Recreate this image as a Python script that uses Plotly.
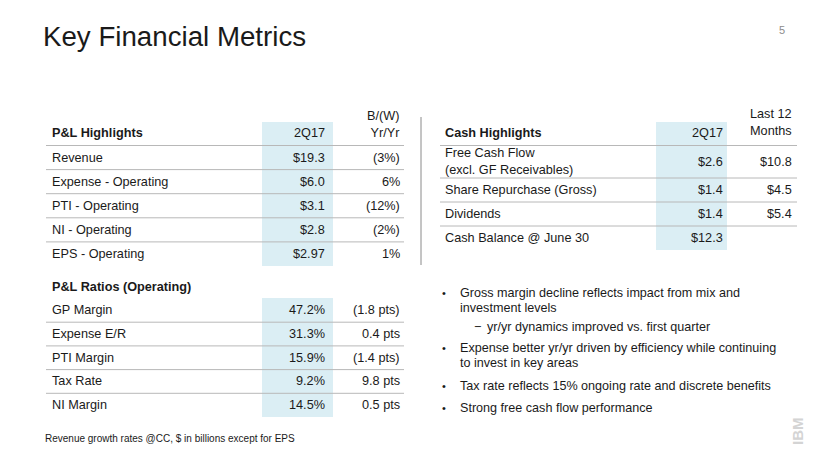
import plotly.graph_objects as go

# ---- data ----
title = "Key Financial Metrics"
page_no = "5"

pl_header = ["P&L Highlights", "2Q17", "B/(W)<br>Yr/Yr"]
pl_labels = ["Revenue", "Expense - Operating", "PTI - Operating", "NI - Operating", "EPS - Operating"]
pl_q = ["$19.3", "$6.0", "$3.1", "$2.8", "$2.97"]
pl_yy = ["(3%)", "6%", "(12%)", "(2%)", "1%"]

ratio_header = "P&L Ratios (Operating)"
ratio_labels = ["GP Margin", "Expense E/R", "PTI Margin", "Tax Rate", "NI Margin"]
ratio_q = ["47.2%", "31.3%", "15.9%", "9.2%", "14.5%"]
ratio_yy = ["(1.8 pts)", "0.4 pts", "(1.4 pts)", "9.8 pts", "0.5 pts"]

cash_header = ["Cash Highlights", "2Q17", "Last 12<br>Months"]
cash_labels = ["Free Cash Flow<br>(excl. GF Receivables)", "Share Repurchase (Gross)", "Dividends", "Cash Balance @ June 30"]
cash_q = ["$2.6", "$1.4", "$1.4", "$12.3"]
cash_ltm = ["$10.8", "$4.5", "$5.4", ""]

bullets = [
    (0, ["Gross margin decline reflects impact from mix and", "investment levels"]),
    (1, ["yr/yr dynamics improved vs. first quarter"]),
    (0, ["Expense better yr/yr driven by efficiency while continuing", "to invest in key areas"]),
    (0, ["Tax rate reflects 15% ongoing rate and discrete benefits"]),
    (0, ["Strong free cash flow performance"]),
]
footnote = "Revenue growth rates @CC, $ in billions except for EPS"

# ---- style ----
FONT = "Liberation Sans, Arial, sans-serif"
TXT = "#1a1a1a"
LINE = "#b8b8b8"
BLUE = "#dbeef4"
FS = 12.7

fig = go.Figure()
fig.add_trace(go.Scatter(x=[0], y=[0], mode="markers", marker=dict(opacity=0), hoverinfo="skip", showlegend=False))

shapes = []
ann = []

def text(x, y, s, size=FS, anchor="left", bold=False, color=TXT, yanchor="middle", angle=0):
    if bold:
        s = "<b>" + s + "</b>"
    ann.append(dict(x=x, y=y, xref="x", yref="y", text=s, showarrow=False,
                    xanchor=anchor, yanchor=yanchor, align=anchor if anchor != "center" else "center",
                    textangle=angle,
                    font=dict(family=FONT, size=size, color=color)))

def hline(x0, x1, y, color=LINE, w=1):
    shapes.append(dict(type="line", xref="x", yref="y", x0=x0, x1=x1, y0=y, y1=y,
                       line=dict(color=color, width=w)))

def rect(x0, x1, y0, y1, color):
    shapes.append(dict(type="rect", xref="x", yref="y", x0=x0, x1=x1, y0=y0, y1=y1,
                       fillcolor=color, line=dict(width=0), layer="below"))

# title
text(41, 36, title, size=27.7)
text(787, 30, page_no, size=11, anchor="right", color="#8c8c8c")

# ---- P&L Highlights table ----
L_lab, L_q, L_yy = 50, 327, 402
rect(262, 333, 122, 266, BLUE)
text(L_lab, 133, pl_header[0], bold=True)
text(L_q, 133, pl_header[1], anchor="right")
text(L_yy, 124, pl_header[2], anchor="right")
hdr_line = 145.5
row_h = 24.1
hline(46, 404, hdr_line)
for i, (a, b, c) in enumerate(zip(pl_labels, pl_q, pl_yy)):
    yc = hdr_line + row_h * (i + 0.5)
    text(L_lab, yc, a)
    text(L_q, yc, b, anchor="right")
    text(L_yy, yc, c, anchor="right")
    if i < len(pl_labels) - 1:
        hline(46, 404, hdr_line + row_h * (i + 1))

# ---- P&L Ratios table ----
rect(262, 333, 298, 417, BLUE)
text(L_lab, 287, ratio_header, bold=True)
r_top = 298.5
r_h = 23.7
for i, (a, b, c) in enumerate(zip(ratio_labels, ratio_q, ratio_yy)):
    yc = r_top + r_h * (i + 0.5)
    text(L_lab, yc, a)
    text(L_q, yc, b, anchor="right")
    text(L_yy, yc, c, anchor="right")
    if i < len(ratio_labels) - 1:
        hline(46, 404, r_top + r_h * (i + 1))

# vertical separator
shapes.append(dict(type="line", xref="x", yref="y", x0=421, x1=421, y0=117, y1=265,
                   line=dict(color="#8a8a8a", width=1)))

# ---- Cash table ----
C_lab, C_q, C_ltm = 443, 725, 794
rect(656, 727, 122, 250, BLUE)
text(C_lab, 133, cash_header[0], bold=True)
text(C_q, 133, cash_header[1], anchor="right")
text(C_ltm, 122, cash_header[2], anchor="right")
c_lines = [145.5, 178, 202, 226, 250]
hline(440, 797, c_lines[0])
for i, (a, b, c) in enumerate(zip(cash_labels, cash_q, cash_ltm)):
    yc = (c_lines[i] + c_lines[i + 1]) / 2
    text(C_lab, yc, a)
    text(C_q, yc, b, anchor="right")
    if c:
        text(C_ltm, yc, c, anchor="right")
    if i < len(cash_labels) - 1:
        hline(440, 797, c_lines[i + 1])

# ---- bullets ----
BS = 12.6
b_y = [[293, 308], [327], [348, 363], [386], [408]]
for (lvl, lines), ys in zip(bullets, b_y):
    if lvl == 0:
        text(440, ys[0], "•", size=11)
        for ln, yy in zip(lines, ys):
            text(458, yy, ln, size=BS)
    else:
        text(472, ys[0], "−", size=BS)
        for ln, yy in zip(lines, ys):
            text(485, yy, ln, size=BS)

# footnote
text(43, 438, footnote, size=10)

# IBM logo (rotated text)
text(797, 431, "IBM", size=15, anchor="center", bold=True, color="#d4d4d4", angle=-90)

fig.update_layout(
    width=830, height=467,
    margin=dict(l=0, r=0, t=0, b=0),
    paper_bgcolor="white", plot_bgcolor="white",
    xaxis=dict(range=[0, 830], visible=False, fixedrange=True),
    yaxis=dict(range=[467, 0], visible=False, fixedrange=True),
    shapes=shapes, annotations=ann, showlegend=False,
)
fig.write_html("out.html", include_plotlyjs=True, config={"displayModeBar": False},
               post_script="document.body.style.margin='0';document.body.style.overflow='hidden';")
